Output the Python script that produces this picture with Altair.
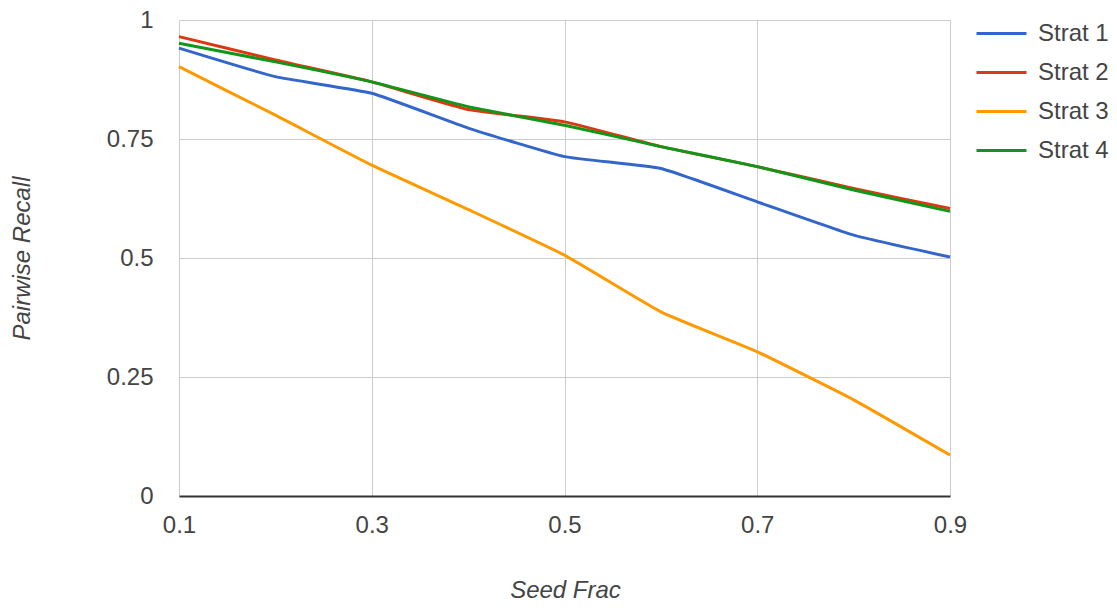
import altair as alt
import pandas as pd

seed_frac = [0.1, 0.2, 0.3, 0.4, 0.5, 0.6, 0.7, 0.8, 0.9]
strat1 = [0.941, 0.881, 0.846, 0.773, 0.713, 0.688, 0.618, 0.548, 0.502]
strat2 = [0.965, 0.916, 0.870, 0.812, 0.786, 0.734, 0.692, 0.646, 0.604]
strat3 = [0.902, 0.800, 0.695, 0.602, 0.506, 0.387, 0.303, 0.202, 0.086]
strat4 = [0.951, 0.912, 0.870, 0.818, 0.779, 0.734, 0.692, 0.643, 0.598]
series_names = ["Strat 1", "Strat 2", "Strat 3", "Strat 4"]
series_colors = ["#3366cc", "#dc3912", "#ff9900", "#109618"]
x_ticks = [0.1, 0.3, 0.5, 0.7, 0.9]
y_ticks = [0, 0.25, 0.5, 0.75, 1]

rows = []
for name, vals in zip(series_names, [strat1, strat2, strat3, strat4]):
    for x, y in zip(seed_frac, vals):
        rows.append({"Seed Frac": x, "Pairwise Recall": y, "series": name})
df = pd.DataFrame(rows)

FONT = "Liberation Sans"
FS = 24

chart = alt.Chart(df).mark_line(strokeWidth=3, interpolate="cardinal", tension=0.6).encode(
    x=alt.X("Seed Frac:Q",
            scale=alt.Scale(domain=[0.1, 0.9], nice=False, zero=False),
            axis=alt.Axis(values=x_ticks, format=".1f", labelFontSize=FS,
                          labelColor="#444444", labelPadding=17, ticks=False,
                          labelFlush=False,
                          domainColor="#333333", domainWidth=2,
                          gridColor="#cccccc", title="Seed Frac",
                          titleFontSize=FS, titleFontStyle="italic",
                          titleFontWeight="normal", titleColor="#444444",
                          titleBaseline="middle", titleY=94, titleX=386,
                          labelFont=FONT, titleFont=FONT)),
    y=alt.Y("Pairwise Recall:Q",
            scale=alt.Scale(domain=[0, 1], nice=False),
            axis=alt.Axis(values=y_ticks, labelFontSize=FS,
                          labelColor="#444444", labelPadding=26, ticks=False,
                          domain=False, gridColor="#cccccc",
                          labelExpr="datum.value == 0 ? '0' : datum.value == 1 ? '1' : format(datum.value, '.2~f')",
                          title="Pairwise Recall", titleFontSize=FS,
                          titleFontStyle="italic", titleFontWeight="normal",
                          titleColor="#444444", titleBaseline="middle",
                          titleX=-157, titleY=238, titleAngle=-90,
                          labelFont=FONT, titleFont=FONT)),
    color=alt.Color("series:N",
                    scale=alt.Scale(domain=series_names, range=series_colors),
                    legend=alt.Legend(title=None, orient="none",
                                      legendX=796, legendY=-5,
                                      symbolType="stroke", symbolSize=2500,
                                      symbolStrokeWidth=3, labelFontSize=FS,
                                      labelColor="#444444", labelFont=FONT,
                                      labelOffset=10, rowPadding=2,
                                      clipHeight=37)),
).properties(
    width=771, height=476,
    autosize=alt.AutoSizeParams(type="none"),
    padding={"left": 179, "top": 20, "right": 167, "bottom": 112},
).configure_view(stroke=None).configure(background="white")

chart.save("out.html", embed_options={"renderer": "svg", "actions": False})
